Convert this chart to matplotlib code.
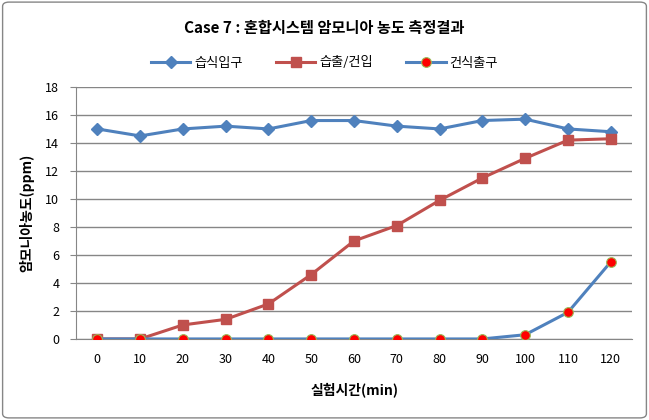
import numpy as np
import matplotlib.pyplot as plt
from matplotlib.patches import FancyBboxPatch

plt.rcParams['font.family'] = ['Noto Sans CJK KR', 'DejaVu Sans']
plt.rcParams['axes.unicode_minus'] = False

# 데이터
times = [0, 10, 20, 30, 40, 50, 60, 70, 80, 90, 100, 110, 120]
wet_in = [15.0, 14.5, 15.0, 15.2, 15.0, 15.6, 15.6, 15.2, 15.0, 15.6, 15.7, 15.0, 14.8]
wet_out_dry_in = [0, 0, 1.0, 1.4, 2.5, 4.6, 7.0, 8.1, 9.9, 11.5, 12.9, 14.2, 14.3]
dry_out = [0, 0, 0, 0, 0, 0, 0, 0, 0, 0, 0.3, 1.9, 5.5]

fig = plt.figure(figsize=(6.49, 4.2), dpi=100)
ax = fig.add_axes([0.117, 0.193, 0.857, 0.6])

# 외곽 테두리
border = FancyBboxPatch((0.004, 0.005), 0.992, 0.99, boxstyle='round,pad=0,rounding_size=0.01',
                        transform=fig.transFigure, fill=False, edgecolor='#868686', linewidth=1.0)
fig.patches.append(border)

x = np.arange(len(times))
ax.plot(x, wet_in, color='#4F81BD', lw=2.2, marker='D', ms=6, mfc='#4F81BD', mec='#4F81BD',
        label='습식입구', zorder=3)
ax.plot(x, wet_out_dry_in, color='#C0504D', lw=2.2, marker='s', ms=7.5, mfc='#C0504D', mec='#C0504D',
        label='습출/건입', zorder=3)
ax.plot(x, dry_out, color='#4F81BD', lw=2.2, marker='o', ms=7, mfc='#FF0000', mec='#9BBB59', mew=0.8,
        label='건식출구', zorder=4)

ax.set_xlim(-0.5, len(times) - 0.5)
ax.set_ylim(0, 18)
ax.set_yticks(range(0, 19, 2))
ax.set_xticks(x)
ax.set_xticklabels([str(t) for t in times])
ax.yaxis.grid(True, color='#868686', lw=1)
ax.set_axisbelow(True)

for s in ['top', 'right']:
    ax.spines[s].set_visible(False)
ax.spines['left'].set_color('#868686')
ax.spines['bottom'].set_color('#868686')
ax.tick_params(axis='y', length=4, color='#868686', labelsize=9, pad=8)
ax.tick_params(axis='x', length=0, labelsize=9, pad=10)

ax.set_xlabel('실험시간(min)', fontsize=10, fontweight='bold', labelpad=12)
ax.set_ylabel('암모니아농도(ppm)', fontsize=10, fontweight='bold', labelpad=8)

fig.text(0.5, 0.933, 'Case 7 : 혼합시스템 암모니아 농도 측정결과', ha='center', va='center',
         fontsize=11, fontweight='bold')
fig.legend(loc='center', bbox_to_anchor=(0.5, 0.85), ncol=3, frameon=False, fontsize=9.5,
           handlelength=3, columnspacing=2.5, handletextpad=0.3)

fig.savefig('out.png', dpi=100)
